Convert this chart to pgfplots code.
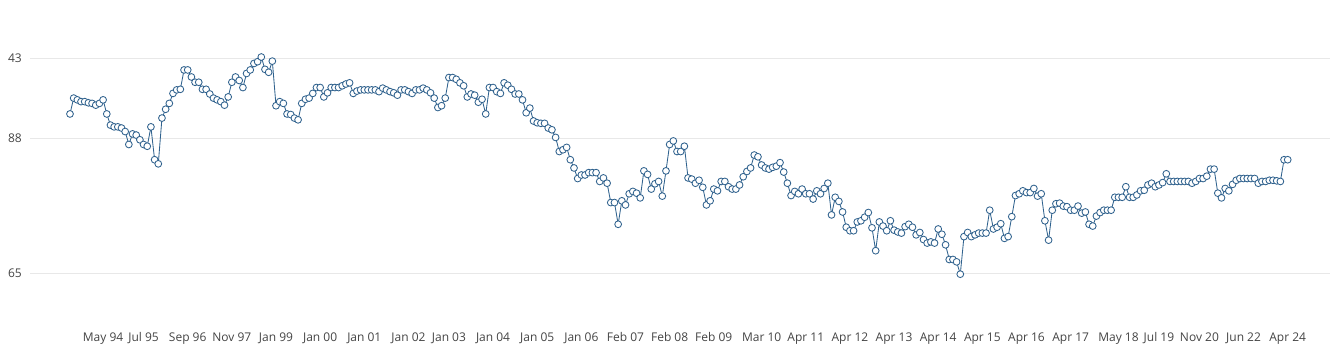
\documentclass[border=0pt]{standalone}
\usepackage{pgfplots}
\pgfplotsset{compat=1.18}
\usepackage{pgfplotstable}
\usepackage{fontspec}
\setmainfont{Open Sans}
\definecolor{linec}{HTML}{30628E}
\definecolor{gridc}{HTML}{E8E8E8}
\definecolor{labc}{HTML}{444444}
\pgfplotstableread{
y
92.1
94.8
94.5
94.2
94.2
94.0
93.9
93.6
93.9
94.5
92.1
90.2
89.9
89.9
89.7
89.1
86.9
88.7
88.5
87.7
86.9
86.6
89.9
84.3
83.6
91.4
92.9
93.9
95.6
96.2
96.3
99.6
99.6
98.4
97.5
97.5
96.3
96.3
95.5
94.8
94.5
94.2
93.6
95.0
97.5
98.4
97.8
96.6
99.0
99.6
100.7
101.0
101.8
99.7
99.2
101.1
93.5
94.2
93.9
92.1
92.0
91.4
91.1
93.9
94.6
94.8
95.6
96.6
96.6
95.0
95.7
96.6
96.6
96.6
96.9
97.2
97.4
95.6
96.0
96.2
96.2
96.2
96.2
96.2
95.9
96.5
96.2
95.9
95.7
95.3
96.2
96.2
95.9
95.6
96.2
96.2
96.5
96.2
95.7
94.8
93.2
93.5
94.8
98.3
98.3
98.0
97.4
96.9
95.0
95.5
95.3
94.1
94.6
92.1
96.6
96.6
95.9
95.6
97.4
97.0
96.3
95.5
95.5
94.5
92.3
93.1
90.9
90.6
90.5
90.5
89.7
89.4
88.1
85.7
86.0
86.4
84.3
82.9
81.1
81.7
81.7
82.1
82.1
82.1
80.6
81.2
80.3
77.0
77.0
73.3
77.3
76.6
78.5
78.9
78.6
77.8
82.4
81.8
79.3
80.2
80.6
78.1
82.4
86.9
87.5
85.7
85.7
86.6
81.2
81.0
80.3
80.8
79.6
76.6
77.3
79.3
79.0
80.6
80.6
79.7
79.3
79.3
80.0
81.4
82.3
82.9
85.1
84.8
83.4
82.9
82.7
83.0
83.2
83.8
82.2
80.3
78.2
78.9
78.5
79.3
78.5
78.5
77.6
79.0
78.5
79.4
80.3
74.9
77.9
77.2
75.4
72.8
72.2
72.2
73.7
73.9
74.5
75.3
72.7
68.8
73.7
73.0
72.2
73.9
72.3
72.0
71.8
72.9
73.3
72.8
71.5
71.9
70.7
70.1
70.3
70.1
72.5
71.6
69.8
67.3
67.3
66.9
64.8
71.2
71.9
71.2
71.5
71.8
71.8
71.8
75.7
72.5
72.8
73.4
70.9
71.2
74.6
78.2
78.5
79.0
78.7
78.7
79.4
78.1
78.5
73.9
70.6
75.7
76.8
76.9
76.4
76.3
75.7
75.7
76.4
75.2
75.4
73.3
73.0
74.7
75.3
75.7
75.7
75.7
77.9
77.9
77.9
79.7
77.9
77.9
78.3
79.0
79.1
80.0
80.3
79.7
80.0
80.4
81.9
80.6
80.6
80.6
80.6
80.6
80.6
80.3
80.6
81.1
81.1
81.5
82.7
82.7
78.6
77.8
79.4
79.0
80.1
80.8
81.1
81.1
81.1
81.1
81.1
80.3
80.6
80.6
80.8
80.8
80.7
80.6
84.3
84.3
}\data
\begin{document}
\begin{tikzpicture}
\begin{axis}[
  scale only axis, width=1300pt, height=260pt,
  at={(0pt,0pt)}, anchor=south west,
  xmin=-10.87, xmax=342.5, ymin=60.40, ymax=104.70,
  axis line style={draw=none},
  tick style={draw=none},
  ytick={65,88,101.63}, yticklabels={65,88,43},
  ymajorgrids, grid style={gridc, line width=1pt},
  xtick={9,20,32,44,56,68,80,92,103,115,127,139,151,163,175,188,200,212,224,236,248,260,272,285,296,307,319,331},
  xticklabels={May 94,Jul 95,Sep 96,Nov 97,Jan 99,Jan 00,Jan 01,Jan 02,Jan 03,Jan 04,Jan 05,Jan 06,Feb 07,Feb 08,Feb 09,Mar 10,Apr 11,Apr 12,Apr 13,Apr 14,Apr 15,Apr 16,Apr 17,May 18,Jul 19,Nov 20,Jun 22,Apr 24},
  xticklabel style={anchor=base, yshift=-41pt, font=\fontsize{12}{14}\selectfont, text=labc},
  yticklabel style={anchor=east, inner sep=0pt, xshift=-8pt, font=\fontsize{12}{14}\selectfont, text=labc},
  clip=false,
]
\addplot[linec, line width=0.85pt, mark=*, mark size=3.4pt, mark options={fill=white, draw=linec, line width=0.85pt}] table[x expr=\coordindex, y=y] {\data};
\end{axis}
\pgfresetboundingbox
\path (-30pt,-64pt) rectangle (1311pt,300pt);
\end{tikzpicture}
\end{document}
